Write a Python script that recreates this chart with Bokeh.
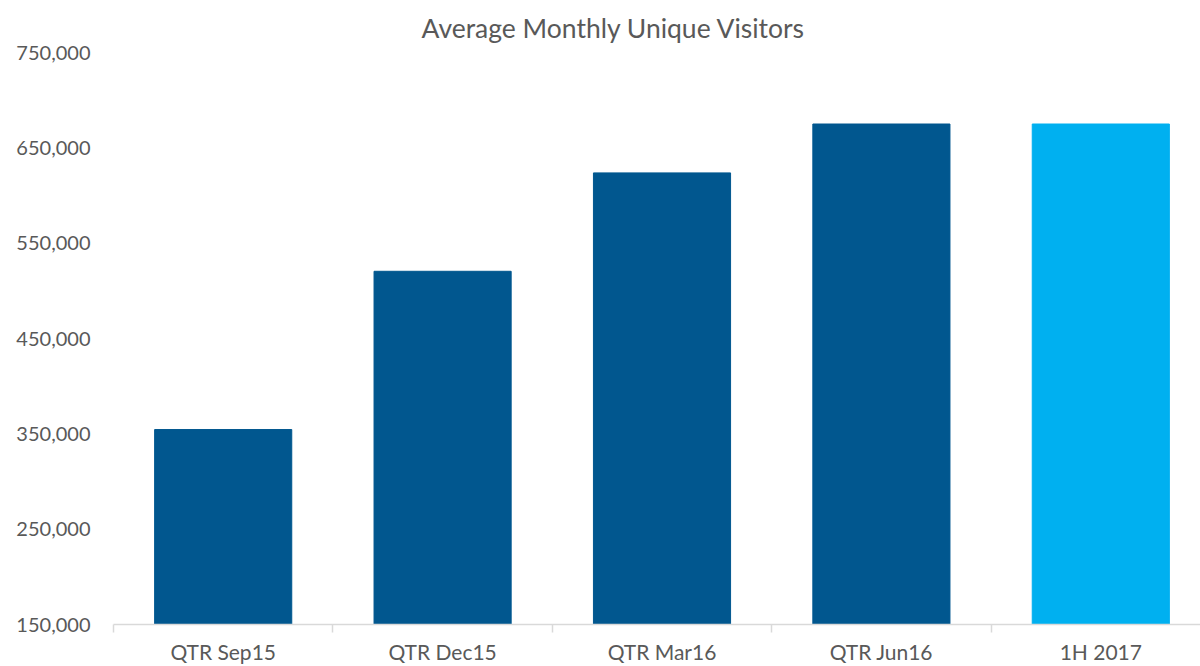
from bokeh.plotting import figure
from bokeh.models import ColumnDataSource, Range1d, FixedTicker, NumeralTickFormatter
from bokeh.embed import file_html
from bokeh.resources import INLINE

categories = ["QTR Sep15", "QTR Dec15", "QTR Mar16", "QTR Jun16", "1H 2017"]
visitors = [354500, 520500, 623700, 675000, 675000]
bar_colors = ["#01578F", "#01578F", "#01578F", "#01578F", "#00B0F0"]
y_ticks = [150000, 250000, 350000, 450000, 550000, 650000, 750000]

FONT = "Lato"
GREY = "#595959"

xs = list(range(len(categories)))
src = ColumnDataSource(dict(x=xs, top=visitors, color=bar_colors))

p = figure(width=1200, height=666, output_backend="svg", toolbar_location=None,
           x_range=Range1d(-0.5, -0.5 + 1087 / 219.4), y_range=Range1d(150000, 750000),
           min_border_left=113, min_border_right=0, min_border_top=52, min_border_bottom=42,
           title="Average Monthly Unique Visitors")
p.outline_line_color = None
p.background_fill_color = "white"
p.border_fill_color = "white"
p.grid.visible = False

p.vbar(x="x", top="top", bottom=150000, width=0.625, color="color", source=src)

p.title.align = "left"
p.title.offset = 308
p.title.text_font = FONT
p.title.text_font_size = "26.5px"
p.title.text_font_style = "normal"
p.title.text_color = GREY
p.title.standoff = 17

xa = p.xaxis[0]
xa.ticker = FixedTicker(ticks=xs, minor_ticks=[i - 0.5 for i in range(len(categories) + 1)])
xa.major_label_overrides = {i: c for i, c in enumerate(categories)}
xa.axis_line_color = "#D9D9D9"
xa.axis_line_width = 1.5
xa.major_tick_line_color = None
xa.major_tick_out = 0
xa.major_tick_in = 0
xa.minor_tick_line_color = "#D9D9D9"
xa.minor_tick_line_width = 1.5
xa.minor_tick_out = 8
xa.minor_tick_in = 0
xa.major_label_standoff = 6
xa.major_label_text_font = FONT
xa.major_label_text_font_size = "21px"
xa.major_label_text_color = GREY

ya = p.yaxis[0]
ya.ticker = FixedTicker(ticks=y_ticks)
ya.formatter = NumeralTickFormatter(format="0,0")
ya.axis_line_color = None
ya.major_tick_line_color = None
ya.minor_tick_line_color = None
ya.major_tick_out = 0
ya.major_tick_in = 0
ya.minor_tick_out = 0
ya.major_label_standoff = 23
ya.major_label_text_font = FONT
ya.major_label_text_font_size = "20px"
ya.major_label_text_color = GREY

open("out.html", "w").write(file_html(p, INLINE))
